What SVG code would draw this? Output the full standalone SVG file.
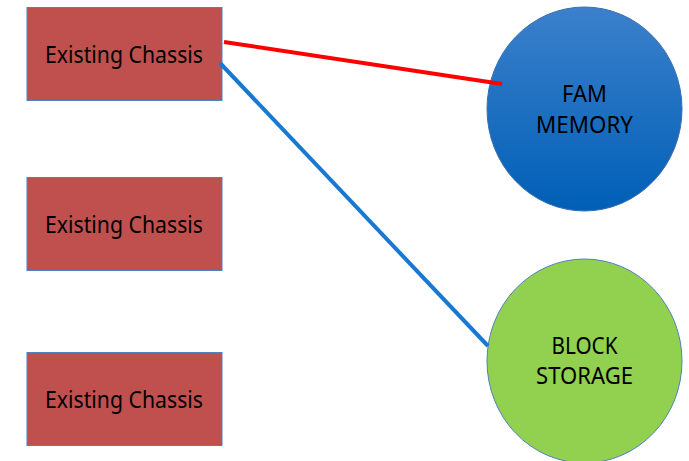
<svg xmlns="http://www.w3.org/2000/svg" width="689" height="461" viewBox="0 0 689 461">
<style>
.box{fill:#C0504D;stroke:#4F81BD;stroke-width:1}
.lbl{font-family:"Noto Sans","Open Sans",sans-serif;font-size:23px;fill:#000;text-anchor:middle}
.conn{fill:none;stroke-width:4}
</style>
<defs>
<linearGradient id="blueGrad" x1="0" y1="0" x2="0" y2="1">
<stop offset="0" stop-color="#3C80CB"/>
<stop offset="1" stop-color="#005FB6"/>
</linearGradient>
</defs>
<rect width="689" height="461" fill="#fff"/>
<g id="chassis1"><rect class="box" x="27" y="7.5" width="195" height="93"/><text class="lbl" x="124" y="62.5" textLength="158" lengthAdjust="spacingAndGlyphs">Existing Chassis</text></g>
<g id="chassis2"><rect class="box" x="27" y="177.5" width="195" height="93"/><text class="lbl" x="124" y="232.5" textLength="158" lengthAdjust="spacingAndGlyphs">Existing Chassis</text></g>
<g id="chassis3"><rect class="box" x="27" y="352.5" width="195" height="93"/><text class="lbl" x="124" y="407.5" textLength="158" lengthAdjust="spacingAndGlyphs">Existing Chassis</text></g>
<g id="fam"><ellipse cx="584.5" cy="109" rx="97.5" ry="102" fill="url(#blueGrad)" stroke="#3A6FB0" stroke-width="1"/><text class="lbl" x="584.5" y="102" textLength="45" lengthAdjust="spacingAndGlyphs">FAM</text><text class="lbl" x="584.5" y="132.5" textLength="97" lengthAdjust="spacingAndGlyphs">MEMORY</text></g>
<g id="block"><ellipse cx="584.5" cy="361" rx="97.5" ry="102" fill="#92D050" stroke="#4F81BD" stroke-width="1"/><text class="lbl" x="584.5" y="353.5" textLength="66" lengthAdjust="spacingAndGlyphs">BLOCK</text><text class="lbl" x="584.5" y="384" textLength="97" lengthAdjust="spacingAndGlyphs">STORAGE</text></g>
<g id="connectors">
<line class="conn" x1="224" y1="42" x2="502" y2="84" stroke="#FF0000"/>
<line class="conn" x1="220" y1="63" x2="488" y2="346" stroke="#1878D2"/>
</g>
</svg>
